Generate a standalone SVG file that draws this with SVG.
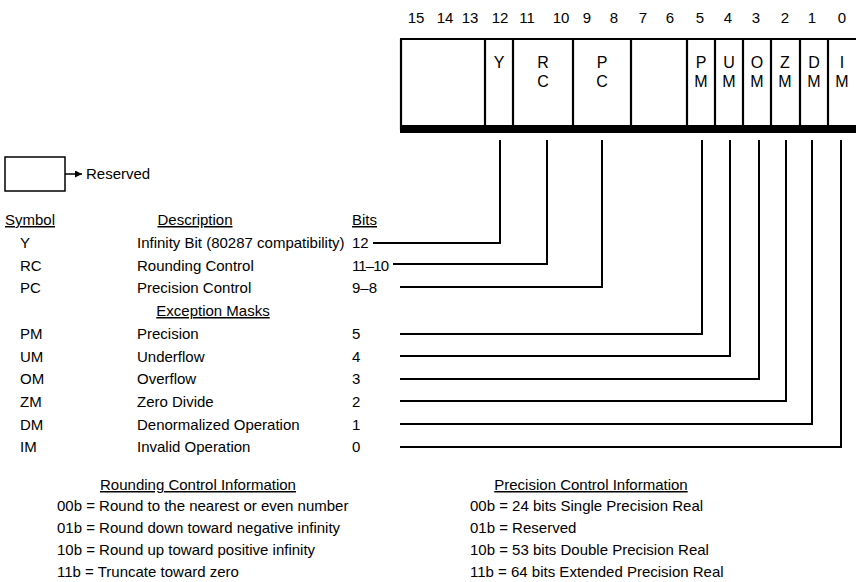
<svg xmlns="http://www.w3.org/2000/svg" width="856" height="582" viewBox="0 0 856 582">
<defs>
<style>
text{font-family:"Liberation Sans",Arial,sans-serif;fill:#000;font-size:15px}
.num{font-size:15px;text-anchor:middle}
.fld{font-size:16px;text-anchor:middle}
.u{text-decoration:underline}
.mid{text-anchor:middle}
.ln{stroke:#000;stroke-width:2;fill:none}
.div{stroke:#000;stroke-width:2.2}
</style>
<marker id="ah" viewBox="0 0 10 10" refX="10" refY="5" markerWidth="7" markerHeight="7" markerUnits="userSpaceOnUse" orient="auto"><path d="M0,0 L10,5 L0,10 z" fill="#000"/></marker>
</defs>
<rect width="856" height="582" fill="#fff"/>

<g id="bitnumbers">
<text class="num" x="416" y="23">15</text>
<text class="num" x="445" y="23">14</text>
<text class="num" x="470" y="23">13</text>
<text class="num" x="500" y="23">12</text>
<text class="num" x="527" y="23">11</text>
<text class="num" x="561" y="23">10</text>
<text class="num" x="587" y="23">9</text>
<text class="num" x="614" y="23">8</text>
<text class="num" x="643" y="23">7</text>
<text class="num" x="670" y="23">6</text>
<text class="num" x="700" y="23">5</text>
<text class="num" x="728" y="23">4</text>
<text class="num" x="756" y="23">3</text>
<text class="num" x="785" y="23">2</text>
<text class="num" x="812" y="23">1</text>
<text class="num" x="842" y="23">0</text>
</g>

<g id="register">
<line class="div" x1="400" y1="39" x2="856" y2="39"/>
<line class="div" x1="401" y1="39" x2="401" y2="130"/>
<rect x="400" y="125" width="456" height="8" fill="#000"/>
<line class="div" x1="485" y1="39" x2="485" y2="126"/>
<line class="div" x1="513" y1="39" x2="513" y2="126"/>
<line class="div" x1="573" y1="39" x2="573" y2="126"/>
<line class="div" x1="631" y1="39" x2="631" y2="126"/>
<line class="div" x1="687" y1="39" x2="687" y2="126"/>
<line class="div" x1="715" y1="39" x2="715" y2="126"/>
<line class="div" x1="743" y1="39" x2="743" y2="126"/>
<line class="div" x1="771" y1="39" x2="771" y2="126"/>
<line class="div" x1="800" y1="39" x2="800" y2="126"/>
<line class="div" x1="828" y1="39" x2="828" y2="126"/>
</g>
<g id="field-Y"><text class="fld" x="499" y="68">Y</text></g>
<g id="field-RC"><text class="fld" x="543" y="68">R</text><text class="fld" x="543" y="87">C</text></g>
<g id="field-PC"><text class="fld" x="602" y="68">P</text><text class="fld" x="602" y="87">C</text></g>
<g id="field-PM"><text class="fld" x="701" y="68">P</text><text class="fld" x="701" y="87">M</text></g>
<g id="field-UM"><text class="fld" x="729" y="68">U</text><text class="fld" x="729" y="87">M</text></g>
<g id="field-OM"><text class="fld" x="757" y="68">O</text><text class="fld" x="757" y="87">M</text></g>
<g id="field-ZM"><text class="fld" x="785" y="68">Z</text><text class="fld" x="785" y="87">M</text></g>
<g id="field-DM"><text class="fld" x="814" y="68">D</text><text class="fld" x="814" y="87">M</text></g>
<g id="field-IM"><text class="fld" x="842" y="68">I</text><text class="fld" x="842" y="87">M</text></g>

<g id="legend">
<rect x="5" y="157" width="60" height="34" fill="none" stroke="#000" stroke-width="1.5"/>
<line x1="65" y1="174" x2="82" y2="174" stroke="#000" stroke-width="1.5" marker-end="url(#ah)"/>
<text x="86" y="179">Reserved</text>
</g>

<g id="table">
<text class="u" x="5" y="225">Symbol</text>
<text class="u mid" x="195" y="225">Description</text>
<text class="u" x="352" y="225">Bits</text>

<text x="20" y="248">Y</text><text x="137" y="248">Infinity Bit (80287 compatibility)</text><text x="352" y="248">12</text>
<text x="20" y="271">RC</text><text x="137" y="271">Rounding Control</text><text x="352" y="271" textLength="37" lengthAdjust="spacing">11–10</text>
<text x="20" y="293">PC</text><text x="137" y="293">Precision Control</text><text x="352" y="293">9–8</text>
<text class="u mid" x="213" y="316">Exception Masks</text>
<text x="20" y="339">PM</text><text x="137" y="339">Precision</text><text x="352" y="339">5</text>
<text x="20" y="362">UM</text><text x="137" y="362">Underflow</text><text x="352" y="362">4</text>
<text x="20" y="384">OM</text><text x="137" y="384">Overflow</text><text x="352" y="384">3</text>
<text x="20" y="407">ZM</text><text x="137" y="407">Zero Divide</text><text x="352" y="407">2</text>
<text x="20" y="430">DM</text><text x="137" y="430">Denormalized Operation</text><text x="352" y="430">1</text>
<text x="20" y="452">IM</text><text x="137" y="452">Invalid Operation</text><text x="352" y="452">0</text>
</g>

<g id="connectors">
<polyline class="ln" points="500,140 500,243 373,243"/>
<polyline class="ln" points="547,140 547,264 393,264"/>
<polyline class="ln" points="602,140 602,287 400,287"/>
<polyline class="ln" points="702,140 702,334 400,334"/>
<polyline class="ln" points="730,140 730,356 400,356"/>
<polyline class="ln" points="759,140 759,379 400,379"/>
<polyline class="ln" points="786,140 786,401 400,401"/>
<polyline class="ln" points="812,140 812,424 400,424"/>
<polyline class="ln" points="841,140 841,447 400,447"/>
</g>

<g id="rounding-info">
<text class="u mid" x="198" y="490">Rounding Control Information</text>
<text x="57" y="511">00b = Round to the nearest or even number</text>
<text x="57" y="533">01b = Round down toward negative infinity</text>
<text x="57" y="555">10b = Round up toward positive infinity</text>
<text x="57" y="577">11b = Truncate toward zero</text>
</g>

<g id="precision-info">
<text class="u mid" x="591" y="490">Precision Control Information</text>
<text x="470" y="511">00b = 24 bits Single Precision Real</text>
<text x="470" y="533">01b = Reserved</text>
<text x="470" y="555">10b = 53 bits Double Precision Real</text>
<text x="470" y="577">11b = 64 bits Extended Precision Real</text>
</g>
</svg>
